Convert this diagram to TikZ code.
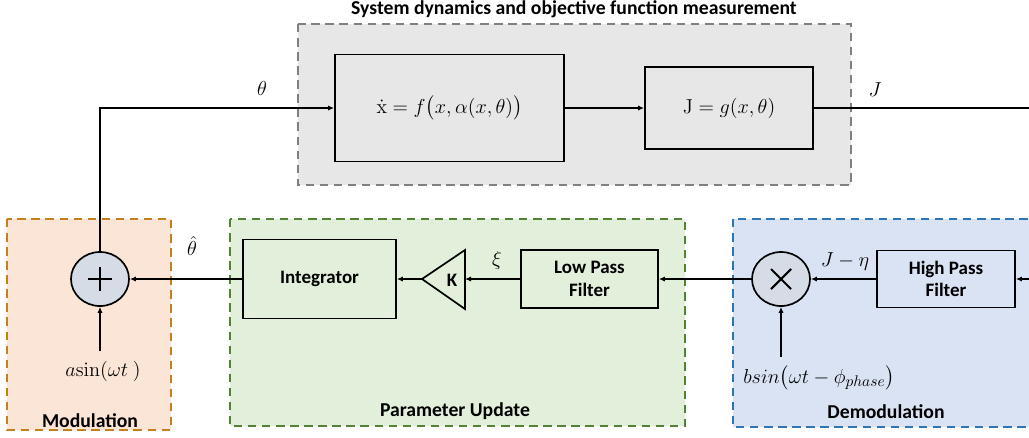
\documentclass[tikz,border=0pt]{standalone}
\usepackage{amsmath}
\usepackage[no-math]{fontspec}
\setmainfont{Carlito}
\usepackage{xcolor}
\usetikzlibrary{arrows.meta,positioning,shapes.geometric}
\definecolor{sysfill}{RGB}{231,231,231}
\definecolor{sysedge}{RGB}{128,128,128}
\definecolor{modfill}{RGB}{251,229,214}
\definecolor{modedge}{RGB}{197,128,30}
\definecolor{updfill}{RGB}{226,239,218}
\definecolor{updedge}{RGB}{84,130,53}
\definecolor{demfill}{RGB}{218,227,243}
\definecolor{demedge}{RGB}{46,117,182}
\definecolor{opfill}{RGB}{214,220,229}
\newcommand{\lblfont}{\fontsize{13.5}{16}\selectfont\bfseries}
\newcommand{\grpfont}{\fontsize{14}{16}\selectfont\bfseries}
\newcommand{\sigfont}{\fontsize{15}{18}\selectfont}

\begin{document}
\begin{tikzpicture}[
  x=0.025cm, y=-0.025cm,
  blk/.style={draw, line width=1.2pt, align=center, font=\lblfont, inner sep=2pt},
  op/.style={draw, ellipse, line width=1.2pt, fill=opfill, minimum width=1.45cm, minimum height=1.35cm},
  grp/.style={line width=1.4pt, dash pattern=on 6pt off 4pt},
  grplbl/.style={font=\grpfont},
  sig/.style={font=\sigfont},
  ar/.style={-{Latex[length=1.5mm,width=1.3mm]}, line width=1.2pt}]
  \useasboundingbox (0,0) rectangle (1029,437);
  \clip (0,0) rectangle (1029,437);
  \draw[grp, draw=sysedge, fill=sysfill] (298,24) rectangle (851,185);
  \draw[grp, draw=modedge, fill=modfill] (7,219) rectangle (171,430);
  \draw[grp, draw=updedge, fill=updfill] (230,219) rectangle (685,426);
  \draw[grp, draw=demedge, fill=demfill] (733,219) rectangle (1045,427);
  \node[grplbl] (systtl) at (574,9) {System dynamics and objective function measurement};
  \node[grplbl] (modttl) at (90,421) {Modulation};
  \node[grplbl] (updttl) at (455,411) {Parameter Update};
  \node[grplbl] (demttl) at (886,412) {Demodulation};
  \node[blk, minimum width=5.725cm, minimum height=2.675cm, font=\sigfont] (sys) at (449.5,108) {\raisebox{5pt}{$\dot{\mathrm{x}} = f\bigl(x, \alpha(x,\theta)\bigr)$}};
  \node[blk, minimum width=4.2cm, minimum height=2.05cm, font=\sigfont] (obj) at (729,108) {$\mathrm{J} = g(x,\theta)$};
  \node[op] (sum) at (100,279) {};
  \draw[line width=1.5pt] ([xshift=-0.29cm]sum.center) -- ([xshift=0.29cm]sum.center);
  \draw[line width=1.5pt] ([yshift=-0.29cm]sum.center) -- ([yshift=0.29cm]sum.center);
  \node[blk, minimum width=3.825cm, minimum height=1.975cm] (integ) at (319.5,279) {Integrator};
  \coordinate (gtip) at (422,279);
  \coordinate (gbase) at (465,279);
  \coordinate (gtop) at (465,250);
  \coordinate (gbot) at (465,309);
  \draw[line width=1.2pt] (gtip) -- (gtop) -- (gbot) -- cycle;
  \node[font=\lblfont] (gain) at (452,280) {K};
  \node[blk, minimum width=3.425cm, minimum height=1.45cm] (lpf) at (589.5,279) {Low Pass\\Filter};
  \node[op] (mult) at (781,279) {};
  \draw[line width=1.5pt] ([shift={(-0.25cm,-0.25cm)}]mult.center) -- ([shift={(0.25cm,0.25cm)}]mult.center);
  \draw[line width=1.5pt] ([shift={(-0.25cm,0.25cm)}]mult.center) -- ([shift={(0.25cm,-0.25cm)}]mult.center);
  \node[blk, minimum width=3.45cm, minimum height=1.425cm] (hpf) at (946,279) {High Pass\\Filter};
  \coordinate (jout) at (1029,108);
  \coordinate (hin) at (1029,279);
  \coordinate (ain) at (100,351);
  \coordinate (bin) at (781,357);
  \node[sig] (thlab) at (262,88) {$\theta$};
  \node[sig] (jlab) at (875,90) {$J$};
  \node[sig] (thhat) at (192,246) {$\hat{\theta}$};
  \node[sig] (xilab) at (497,260) {$\xi$};
  \node[sig] (jeta) at (845,262) {$J-\eta$};
  \node[sig] (alab) at (103,371) {$a\mathrm{sin}(\omega t\ )$};
  \node[sig] (blab) at (819,378) {$b sin\bigl(\omega t-\phi_{phase}\bigr)$};
  \draw[ar] (sum.north) |- (sys.west);
  \draw[ar] (sys.east) -- (obj.west);
  \draw[line width=1.2pt] (obj.east) -- (jout);
  \draw[ar] (hin) -- (hpf.east);
  \draw[ar] (hpf.west) -- (mult.east);
  \draw[ar] (bin) -- (mult.south);
  \draw[ar] (mult.west) -- (lpf.east);
  \draw[ar] (lpf.west) -- (gbase);
  \draw[ar] (gtip) -- (integ.east);
  \draw[ar] (integ.west) -- (sum.east);
  \draw[ar] (ain) -- (sum.south);
\end{tikzpicture}
\end{document}
